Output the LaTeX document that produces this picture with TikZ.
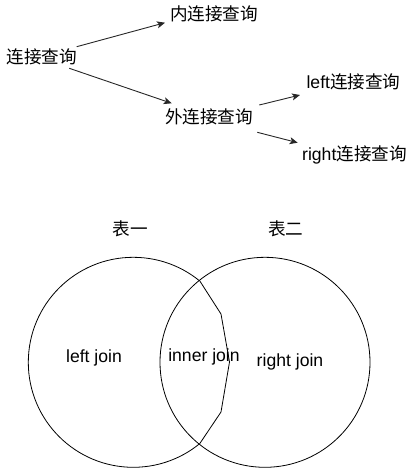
\documentclass[tikz,border=0pt]{standalone}
\usepackage{fontspec}
\setmainfont{Liberation Sans}
\newfontfamily\cjk{Noto Sans CJK SC}
\usetikzlibrary{arrows.meta}
\begin{document}
\begin{tikzpicture}[x=1pt,y=-1pt,
  lbl/.style={inner sep=0pt,font=\fontsize{17.6}{20}\selectfont},
  arr/.style={draw=black!85,line width=0.9pt,-{Stealth[length=8pt,width=7pt,inset=2pt]}},
  ring/.style={draw=black,line width=0.8pt}]
\useasboundingbox (0,0) rectangle (414,469);
% top tree
\node[lbl] (root) at (41.7,57.3) {\cjk 连接查询};
\node[lbl] (inner) at (214,13.5) {\cjk 内连接查询};
\node[lbl] (outer) at (209,116.7) {\cjk 外连接查询};
\node[lbl] (left) at (353.5,81.7) {left\cjk 连接查询};
\node[lbl] (right) at (354.5,155) {right\cjk 连接查询};
\coordinate (a1s) at (76.7,46.7); \coordinate (a1e) at (165,22.7);
\coordinate (a2s) at (69.3,68.3); \coordinate (a2e) at (171.7,103.3);
\coordinate (a3s) at (259.3,105); \coordinate (a3e) at (300,95);
\coordinate (a4s) at (257.3,132.3); \coordinate (a4e) at (297.7,142.7);
\draw[arr] (a1s) -- (a1e);
\draw[arr] (a2s) -- (a2e);
\draw[arr] (a3s) -- (a3e);
\draw[arr] (a4s) -- (a4e);
% venn
\node[lbl] (t1) at (130,228.3) {\cjk 表一};
\node[lbl] (t2) at (285.7,228.3) {\cjk 表二};
\coordinate (c1) at (133.3,362.3);
\coordinate (c2) at (265,362.3);
\draw[ring] (c1) circle[radius=105];
\draw[ring,fill=white] (c2) circle[radius=105];
\draw[ring] (199.5,280.5) -- (221,314) -- (229.5,362) -- (221,412) -- (199.5,444);
\node[lbl] (lj) at (94,357.7) {left join};
\node[lbl] (ij) at (204,356.7) {inner join};
\node[lbl] (rj) at (290,362.3) {right join};
\end{tikzpicture}
\end{document}
